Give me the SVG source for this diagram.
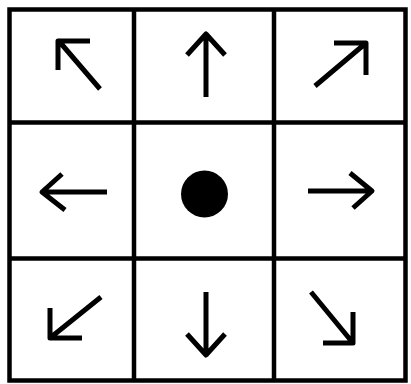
<svg xmlns="http://www.w3.org/2000/svg" width="411" height="384" viewBox="0 0 411 384">
<style>
.grid{fill:none;stroke:#000;stroke-width:4.5}
.arr{fill:none;stroke:#000;stroke-width:5;stroke-linecap:butt;stroke-linejoin:round}
</style>
<rect width="411" height="384" fill="#fff"/>
<g id="grid">
<rect class="grid" x="9.5" y="9.5" width="396" height="371"/>
<line class="grid" x1="134" y1="9.5" x2="134" y2="380.5"/>
<line class="grid" x1="274" y1="9.5" x2="274" y2="380.5"/>
<line class="grid" x1="9.5" y1="122.5" x2="405.5" y2="122.5"/>
<line class="grid" x1="9.5" y1="258.5" x2="405.5" y2="258.5"/>
</g>
<g id="nw"><path class="arr" d="M100,89 L58,40 M90,41 L58,41 L58,70"/></g>
<g id="n"><path class="arr" d="M206,97 L206,34 M187,55 L206,34 L225,55"/></g>
<g id="ne"><path class="arr" d="M315,86 L366,43 M334,43 L366,43 L366,75"/></g>
<g id="w"><path class="arr" d="M107,192 L42,192 M62,174 L42,192 L65,210"/></g>
<g id="c"><circle cx="204.5" cy="194" r="23.5" fill="#000"/></g>
<g id="e"><path class="arr" d="M308,191 L372,191 M350,173 L372,191 L353,208"/></g>
<g id="sw"><path class="arr" d="M101,297 L50,338 M50,308 L50,338 L82,338"/></g>
<g id="s"><path class="arr" d="M206,292 L206,355 M187,334 L206,355 L225,334"/></g>
<g id="se"><path class="arr" d="M311,292 L353,343 M353,312 L353,343 L323,343"/></g>
</svg>
